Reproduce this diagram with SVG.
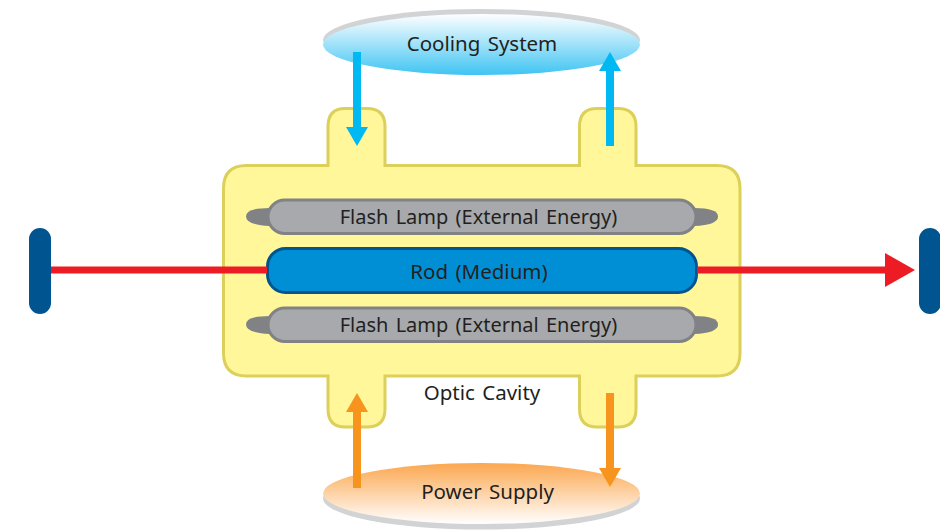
<svg xmlns="http://www.w3.org/2000/svg" width="940" height="530" viewBox="0 0 940 530">
<style>
text{font-family:"Noto Sans","Open Sans","Liberation Sans",sans-serif;font-size:20.500px;fill:#231f20;text-anchor:middle;word-spacing:2px}
.lamp-label{font-size:20px}
.tip{fill:#808285}
.lamp{fill:#a7a9ac;stroke:#808285;stroke-width:3}
.mirror{fill:#00548f}
.blue{stroke:#00b9f2;stroke-width:8;fill:none}
.orange{stroke:#f7941d;stroke-width:8;fill:none}
.red{stroke:#ed1c24;stroke-width:7;fill:none}
</style>
<defs>
<linearGradient id="cool" x1="0" y1="0" x2="0" y2="1"><stop offset="0" stop-color="#ffffff"/><stop offset="1" stop-color="#3fc4f3"/></linearGradient>
<linearGradient id="warm" x1="0" y1="0" x2="0" y2="1"><stop offset="0" stop-color="#fba74f"/><stop offset="1" stop-color="#ffffff"/></linearGradient>
<marker id="hb" markerUnits="userSpaceOnUse" markerWidth="20" markerHeight="22" refX="0" refY="11" orient="auto"><path d="M0 0L19 11L0 22Z" fill="#00b9f2"/></marker>
<marker id="ho" markerUnits="userSpaceOnUse" markerWidth="20" markerHeight="22" refX="0" refY="11" orient="auto"><path d="M0 0L19 11L0 22Z" fill="#f7941d"/></marker>
<marker id="hr" markerUnits="userSpaceOnUse" markerWidth="31" markerHeight="34" refX="0" refY="17" orient="auto"><path d="M0 0L30 17L0 34Z" fill="#ed1c24"/></marker>
</defs>
<g id="optic-cavity">
<path d="M246.500 165.500H328V126.500Q328 108.500 345 108.500H367Q385 108.500 385 126.500V165.500H579.500V126.500Q579.500 108.500 597 108.500H618Q636 108.500 636 126.500V165.500H717Q740 165.500 740 188.500V353Q740 376 717 376H636V409Q636 427 618 427H597Q579.500 427 579.500 409V376H385V409Q385 427 367 427H345Q328 427 328 409V376H246.500Q223.500 376 223.500 353V188.500Q223.500 165.500 246.500 165.500Z" fill="#fff799" stroke="#dcd05a" stroke-width="3"/>
<text x="482" y="400">Optic Cavity</text>
</g>
<g id="cooling-system">
<ellipse cx="481.500" cy="40" rx="158.500" ry="31" fill="#d1d3d4"/>
<ellipse cx="481.500" cy="44.500" rx="158.500" ry="30.500" fill="url(#cool)"/>
<text x="482" y="51">Cooling System</text>
</g>
<g id="power-supply">
<ellipse cx="481.500" cy="498.500" rx="158.500" ry="31" fill="#d1d3d4"/>
<ellipse cx="481.500" cy="493.500" rx="158.500" ry="30.500" fill="url(#warm)"/>
<text x="487.500" y="499">Power Supply</text>
</g>
<g id="flash-lamp-top">
<path class="tip" d="M270 208Q246 208 246 216.500Q246 225 270 226Z"/>
<path class="tip" d="M694 208Q718 208 718 216.500Q718 225 694 226Z"/>
<rect class="lamp" x="268" y="200" width="428" height="33.500" rx="17"/>
<text class="lamp-label" x="478.500" y="224">Flash Lamp (External Energy)</text>
</g>
<g id="rod">
<rect x="267.500" y="248.500" width="429" height="44" rx="18" fill="#008fd5" stroke="#00548f" stroke-width="3"/>
<text x="479" y="279">Rod (Medium)</text>
</g>
<g id="flash-lamp-bottom">
<path class="tip" d="M270 316Q246 316 246 324.500Q246 333 270 334Z"/>
<path class="tip" d="M694 316Q718 316 718 324.500Q718 333 694 334Z"/>
<rect class="lamp" x="268" y="308" width="428" height="33.500" rx="17"/>
<text class="lamp-label" x="478.500" y="332">Flash Lamp (External Energy)</text>
</g>
<g id="mirror-left"><rect class="mirror" x="29" y="228" width="22" height="86" rx="11"/></g>
<g id="mirror-right"><rect class="mirror" x="919" y="228" width="22" height="86" rx="11"/></g>
<g id="connectors">
<line class="red" x1="51" y1="270" x2="267" y2="270"/>
<line class="red" x1="697" y1="270" x2="885" y2="270" marker-end="url(#hr)"/>
<line class="blue" x1="357" y1="52" x2="357" y2="127" marker-end="url(#hb)"/>
<line class="blue" x1="610" y1="146" x2="610" y2="71" marker-end="url(#hb)"/>
<line class="orange" x1="357" y1="488" x2="357" y2="412" marker-end="url(#ho)"/>
<line class="orange" x1="610" y1="393" x2="610" y2="468" marker-end="url(#ho)"/>
</g>
</svg>
